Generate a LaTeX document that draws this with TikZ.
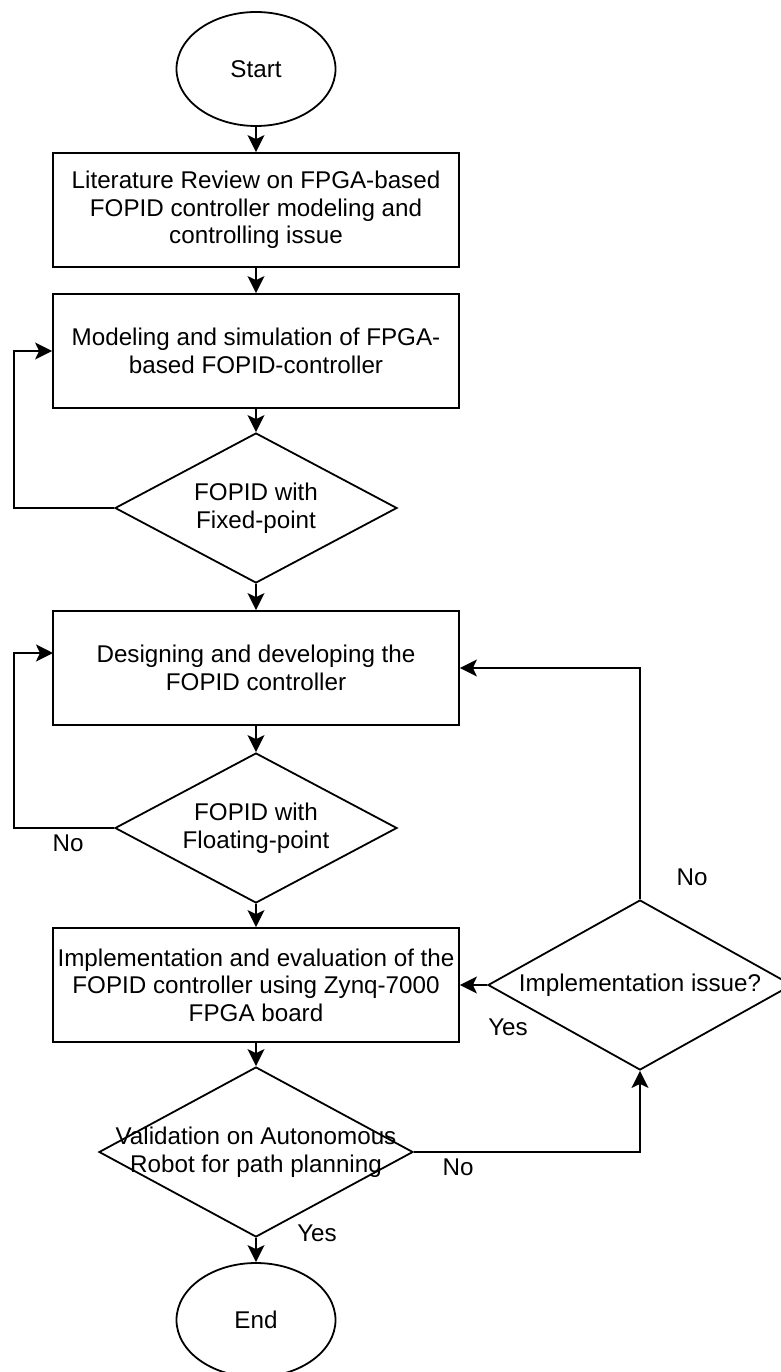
\documentclass[tikz,border=0pt]{standalone}
\usepackage{fontspec}
\setmainfont{Liberation Sans}
\usetikzlibrary{shapes.geometric,arrows.meta,calc}
\begin{document}
\begin{tikzpicture}[x=1pt,y=-1pt,line width=1.8pt,
  every node/.style={font=\fontsize{24.2}{27.5}\selectfont},
  proc/.style={draw, rectangle, minimum width=406pt, minimum height=114pt, inner sep=0pt, align=center},
  term/.style={draw, ellipse, minimum width=159pt, minimum height=114pt, inner sep=0pt},
  dec/.style={draw, diamond, inner sep=0pt},
  dtext/.style={align=center, inner sep=0pt},
  lbl/.style={inner sep=0pt},
  arr/.style={-{Stealth[length=17pt 0 0,width=17pt 0 0,inset=4pt 0 0,fill=black]}}]
\useasboundingbox (0,0) rectangle (780,1372);

\node[term] (start) at (256,69) {Start};
\node[proc] (box1) at (256,210) {Literature Review on FPGA-based\\FOPID controller modeling and\\controlling issue};
\node[proc] (box2) at (256,351) {Modeling and simulation of FPGA-\\based FOPID-controller};
\node[dec, minimum width=282pt, minimum height=150pt] (d1) at (256,508) {};
\node[dtext] (d1t) at (d1) {FOPID with\\Fixed-point};
\node[proc] (box3) at (256,668) {Designing and developing the\\FOPID controller};
\node[dec, minimum width=282pt, minimum height=150pt] (d2) at (256,828) {};
\node[dtext] (d2t) at (d2) {FOPID with\\Floating-point};
\node[proc] (box4) at (256,985) {Implementation and evaluation of the\\FOPID controller using Zynq-7000\\FPGA board};
\node[dec, minimum width=304pt, minimum height=170pt] (d3) at (640,985) {};
\node[dtext] (d3t) at (d3) {Implementation issue?};
\node[dec, minimum width=314pt, minimum height=170pt] (d4) at (256,1152) {};
\node[dtext] (d4t) at (d4) {Validation on Autonomous\\Robot for path planning};
\node[term] (end) at (256,1320) {End};

\coordinate (l1) at (14,508);
\coordinate (l1b) at (14,351);
\coordinate (l2) at (14,828);
\coordinate (l2b) at (14,653);
\coordinate (b3in) at (53,653);
\coordinate (r1) at (640,668);
\coordinate (r2) at (640,1152);

\draw[arr] (start.south) -- (box1.north);
\draw[arr] (box1.south) -- (box2.north);
\draw[arr] (box2.south) -- (d1.north);
\draw[arr] (d1.west) -- (l1) -- (l1b) -- (box2.west);
\draw[arr] (d1.south) -- (box3.north);
\draw[arr] (box3.south) -- (d2.north);
\draw[arr] (d2.west) -- (l2) -- (l2b) -- (b3in);
\draw[arr] (d2.south) -- (box4.north);
\draw[arr] (d3.west) -- (box4.east);
\draw[arr] (d3.north) -- (r1) -- (box3.east);
\draw[arr] (box4.south) -- (d4.north);
\draw[arr] (d4.east) -- (r2) -- (d3.south);
\draw[arr] (d4.south) -- (end.north);

\node[lbl] (no1) at (68,843) {No};
\node[lbl] (no2) at (692,877) {No};
\node[lbl] (yes1) at (508,1027) {Yes};
\node[lbl] (no3) at (458,1167) {No};
\node[lbl] (yes2) at (317,1233) {Yes};
\end{tikzpicture}
\end{document}
